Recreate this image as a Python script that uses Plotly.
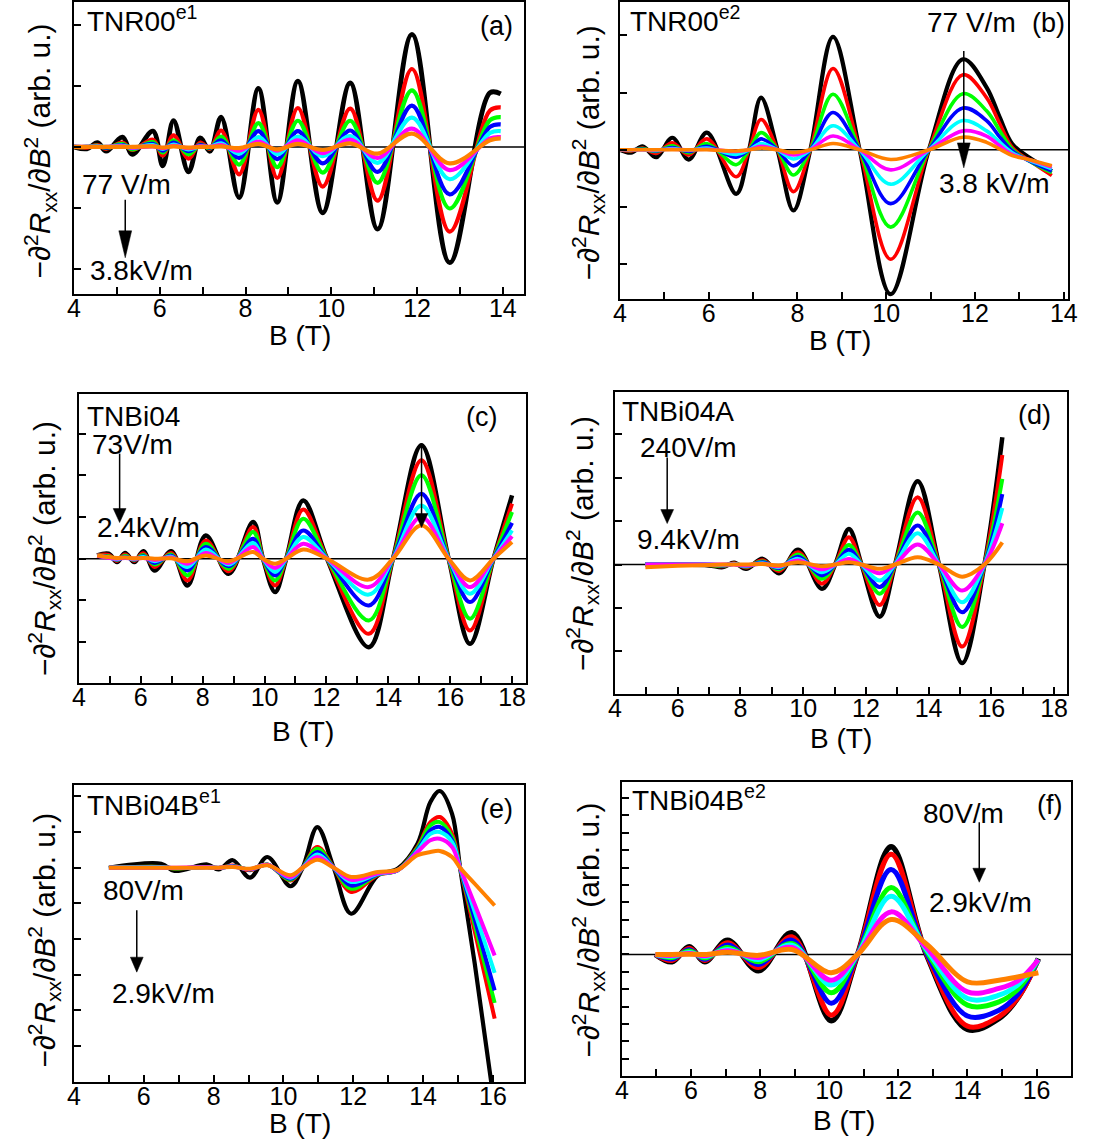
import plotly.graph_objects as go

# ---------------- data ----------------
# panel (a) TNR00 e1
A_B = [4.0, 4.3, 4.55, 4.75, 5.13, 5.36, 5.84, 6.07, 6.32, 6.67, 6.94, 7.17, 7.43, 7.85, 8.3, 8.74, 9.22, 9.8, 10.44, 11.08, 11.88, 12.76, 13.7, 13.95]
A_K = [0, -0.03, 0.07, -0.07, 0.16, -0.12, 0.26, -0.31, 0.43, -0.41, 0.15, -0.07, 0.49, -0.83, 0.96, -0.91, 1.08, -1.08, 1.05, -1.35, 1.85, -1.9, 0.89, 0.87]
A_R = [0, -0.01, 0.03, -0.03, 0.07, -0.05, 0.12, -0.14, 0.19, -0.19, 0.07, -0.03, 0.27, -0.45, 0.61, -0.51, 0.64, -0.65, 0.63, -0.88, 1.28, -1.39, 0.6, 0.65]
A_G = [0, 0, 0.02, -0.02, 0.05, -0.04, 0.08, -0.09, 0.11, -0.12, 0.04, -0.02, 0.17, -0.29, 0.39, -0.33, 0.43, -0.42, 0.43, -0.59, 0.93, -1.01, 0.44, 0.49]
A_BL = [0, 0, 0.01, -0.01, 0.03, -0.02, 0.05, -0.06, 0.07, -0.07, 0.03, -0.01, 0.11, -0.18, 0.26, -0.2, 0.26, -0.27, 0.27, -0.41, 0.68, -0.78, 0.33, 0.37]
A_C = [0, 0, 0.01, 0, 0.02, -0.01, 0.03, -0.03, 0.04, -0.04, 0.01, 0, 0.06, -0.11, 0.16, -0.12, 0.17, -0.15, 0.18, -0.26, 0.48, -0.53, 0.23, 0.26]
A_M = [0, 0, 0, 0, 0.01, -0.01, 0.01, -0.02, 0.02, -0.02, 0.01, 0, 0.03, -0.06, 0.09, -0.06, 0.11, -0.1, 0.12, -0.18, 0.3, -0.38, 0.14, 0.16]
A_O = [0, 0, 0, 0, 0, 0, 0.01, -0.01, 0.01, -0.01, 0, 0, 0.01, -0.02, 0.05, -0.04, 0.05, -0.05, 0.06, -0.11, 0.22, -0.27, 0.11, 0.14]

# panel (b) TNR00 e2
B_B = [4.0, 4.25, 4.51, 4.82, 5.18, 5.55, 5.96, 6.62, 6.91, 7.18, 7.55, 7.91, 8.29, 8.8, 9.4, 10.1, 10.96, 11.73, 12.26, 12.56, 12.84, 13.21, 13.73]
B_K = [0, -0.05, 0.06, -0.13, 0.21, -0.17, 0.30, -0.77, 0, 0.91, 0, -1.06, 0, 1.97, 0, -2.52, 0, 1.58, 1.09, 0.56, 0.10, -0.13, -0.37]
B_R = [0, -0.02, 0.03, -0.06, 0.12, -0.09, 0.19, -0.47, 0, 0.53, 0, -0.73, 0, 1.42, 0, -1.91, 0, 1.31, 0.91, 0.45, 0.04, -0.18, -0.45]
B_G = [0, -0.01, 0.02, -0.03, 0.07, -0.05, 0.11, -0.26, 0, 0.30, 0, -0.44, 0, 0.97, 0, -1.35, 0, 0.98, 0.68, 0.33, 0.01, -0.19, -0.4]
B_BL = [0, 0, 0.01, -0.02, 0.04, -0.03, 0.06, -0.13, 0, 0.19, 0, -0.28, 0, 0.65, 0, -0.94, 0, 0.73, 0.51, 0.22, -0.02, -0.19, -0.37]
B_C = [0, 0, 0, -0.01, 0.02, -0.01, 0.03, -0.08, 0, 0.11, 0, -0.16, 0, 0.42, 0, -0.6, 0, 0.51, 0.33, 0.13, -0.05, -0.18, -0.33]
B_M = [0, 0, 0, 0, 0.01, 0, 0.01, -0.03, 0, 0.06, 0, -0.09, 0, 0.24, 0, -0.35, 0, 0.33, 0.24, 0.07, -0.08, -0.17, -0.3]
B_O = [0, 0, 0, 0, 0, 0, 0, -0.02, 0, 0.03, 0, -0.05, 0, 0.11, 0, -0.17, 0, 0.22, 0.13, 0.01, -0.1, -0.17, -0.28]

# panel (c) TNBi04
C_B = [4.59, 4.96, 5.23, 5.49, 5.79, 6.08, 6.45, 6.98, 7.51, 8.1, 8.84, 9.63, 9.95, 10.34, 10.7, 11.25, 12.02, 13.37, 14.15, 15.07, 15.95, 16.64, 17.4, 18.0]
C_K = [0.08, 0.12, -0.08, 0.14, -0.08, 0.18, -0.28, 0.18, -0.64, 0.56, -0.36, 0.88, 0, -0.8, 0, 1.4, 0, -2.12, 0, 2.72, 0, -2.04, 0, 1.52]
C_R = [0.08, 0.09, -0.05, 0.1, -0.05, 0.13, -0.2, 0.14, -0.52, 0.44, -0.3, 0.76, 0, -0.64, 0, 1.18, 0, -1.8, 0, 2.36, 0, -1.72, 0, 1.32]
C_G = [0.07, 0.06, -0.03, 0.07, -0.03, 0.09, -0.14, 0.1, -0.4, 0.36, -0.24, 0.64, 0, -0.52, 0, 0.96, 0, -1.48, 0, 2.0, 0, -1.44, 0, 1.12]
C_BL = [0.07, 0.04, -0.02, 0.05, -0.02, 0.06, -0.1, 0.07, -0.28, 0.28, -0.18, 0.48, 0, -0.4, 0, 0.68, 0, -1.12, 0, 1.56, 0, -1.04, 0, 0.86]
C_C = [0.07, 0.03, -0.01, 0.03, -0.01, 0.04, -0.06, 0.05, -0.2, 0.22, -0.14, 0.38, 0, -0.32, 0, 0.52, 0, -0.86, 0, 1.28, 0, -0.84, 0, 0.68]
C_M = [0.07, 0.02, 0, 0.02, 0, 0.02, -0.03, 0.03, -0.12, 0.14, -0.1, 0.28, 0, -0.22, 0, 0.36, 0, -0.68, 0, 1.0, 0, -0.68, 0, 0.54]
C_O = [0.08, 0.04, 0.02, 0.03, 0.01, 0.02, 0, 0.01, -0.06, 0.08, -0.06, 0.16, 0, -0.12, 0, 0.22, 0, -0.5, 0, 0.8, 0, -0.52, 0, 0.4]

# panel (d) TNBi04A
D_B = [4.97, 6.0, 7.0, 7.44, 7.8, 8.18, 8.71, 9.23, 9.84, 10.6, 11.02, 11.46, 11.86, 12.44, 12.93, 13.65, 14.33, 15.07, 15.78, 16.35]
D_K = [0, 0, -0.02, -0.06, 0.04, -0.1, 0.13, -0.2, 0.34, -0.56, 0, 0.82, 0, -1.2, 0, 1.92, 0, -2.27, 0, 2.93]
D_R = [0, 0, -0.01, -0.04, 0.03, -0.07, 0.1, -0.15, 0.28, -0.44, 0, 0.63, 0, -0.93, 0, 1.55, 0, -1.89, 0, 2.52]
D_G = [0, 0, -0.01, -0.03, 0.02, -0.05, 0.07, -0.11, 0.23, -0.33, 0, 0.45, 0, -0.67, 0, 1.2, 0, -1.44, 0, 1.97]
D_BL = [0, 0, 0, -0.02, 0.01, -0.04, 0.05, -0.08, 0.18, -0.25, 0, 0.34, 0, -0.52, 0, 0.9, 0, -1.1, 0, 1.62]
D_C = [0, 0, 0, -0.01, 0.01, -0.03, 0.03, -0.06, 0.13, -0.18, 0, 0.25, 0, -0.37, 0, 0.72, 0, -0.87, 0, 1.3]
D_M = [0, 0, 0, 0, 0, -0.02, 0.02, -0.04, 0.09, -0.11, 0, 0.13, 0, -0.2, 0, 0.46, 0, -0.6, 0, 0.95]
D_O = [-0.06, -0.03, -0.01, 0, 0, 0, 0.01, -0.02, 0.05, -0.04, 0, 0.05, 0, -0.1, 0, 0.17, 0, -0.28, 0, 0.51]

# panel (e) TNBi04B e1
E_B = [5.0, 6.5, 6.88, 7.82, 8.14, 8.55, 9.04, 9.54, 10.2, 10.55, 10.97, 11.44, 11.94, 12.71, 13.27, 13.84, 14.21, 14.48, 14.83, 15.06, 15.48, 16.05]
E_K = [0, 0.11, -0.09, 0.09, -0.05, 0.21, -0.28, 0.3, -0.52, 0, 1.14, 0, -1.29, -0.21, -0.03, 0.67, 1.84, 2.15, 1.51, 0, -2.69, -6.7]
E_R = [0, 0.02, -0.02, 0.02, -0.01, 0.06, -0.07, 0.09, -0.36, 0, 0.58, 0, -0.68, -0.2, -0.07, 0.58, 1.28, 1.42, 0.95, 0, -1.78, -4.23]
E_G = [0, 0.02, -0.02, 0.02, -0.01, 0.05, -0.05, 0.09, -0.34, 0, 0.53, 0, -0.59, -0.19, -0.07, 0.55, 1.19, 1.28, 0.86, 0, -1.6, -3.79]
E_BL = [0, 0.01, -0.01, 0.01, -0.01, 0.04, -0.05, 0.08, -0.31, 0, 0.44, 0, -0.5, -0.18, -0.07, 0.5, 1.05, 1.14, 0.77, 0, -1.45, -3.44]
E_C = [0, 0.01, -0.01, 0.01, 0, 0.03, -0.04, 0.08, -0.28, 0, 0.37, 0, -0.4, -0.17, -0.07, 0.47, 0.95, 1.0, 0.72, 0, -1.24, -2.95]
E_M = [0, 0, 0, 0.01, 0, 0.03, -0.04, 0.08, -0.26, 0, 0.3, 0, -0.34, -0.16, -0.07, 0.44, 0.77, 0.81, 0.58, 0, -1.03, -2.46]
E_O = [0, 0, 0, 0, 0, 0.02, -0.03, 0.07, -0.21, 0, 0.22, 0, -0.26, -0.12, -0.06, 0.35, 0.44, 0.47, 0.3, 0, -0.45, -1.06]

# panel (f) TNBi04B e2
F_B = [4.97, 5.45, 5.95, 6.4, 7.06, 7.95, 8.92, 10.06, 10.82, 11.79, 12.81, 14.0, 14.91, 15.48, 16.05]
F_K = [0, -0.42, 0.44, -0.42, 0.82, -0.94, 1.25, -3.81, 0, 6.19, 0, -4.31, -3.68, -2.43, -0.23]
F_R = [0, -0.34, 0.36, -0.35, 0.67, -0.75, 1.02, -3.49, 0, 5.77, 0.05, -4.12, -3.58, -2.43, -0.3]
F_G = [0, -0.18, 0.2, -0.2, 0.4, -0.42, 0.63, -2.2, 0, 3.85, 0.2, -2.91, -2.72, -1.95, -0.3]
F_BL = [0, -0.26, 0.28, -0.28, 0.54, -0.57, 0.82, -2.8, 0, 4.89, 0.1, -3.54, -3.2, -2.24, -0.3]
F_C = [0, -0.1, 0.12, -0.12, 0.29, -0.29, 0.54, -1.76, 0, 3.35, 0.3, -2.53, -2.34, -1.7, -0.3]
F_M = [0, -0.05, 0.06, -0.07, 0.21, -0.17, 0.4, -1.48, 0, 2.45, 0.4, -2.15, -1.95, -1.48, -0.3]
F_O = [0, 0, 0.02, 0, 0.13, -0.05, 0.29, -1.05, 0, 2.01, 0.6, -1.57, -1.48, -1.28, -1.05]

X_TICKS_A = [4, 6, 8, 10, 12, 14]
X_TICKS_C = [4, 6, 8, 10, 12, 14, 16, 18]
X_TICKS_E = [4, 6, 8, 10, 12, 14, 16]

COLORS = ["#000000", "#ff0000", "#00ff00", "#0000ff", "#00ffff", "#ff00ff", "#ff8000"]
COLORS_F = ["#000000", "#ff0000", "#0000ff", "#00ff00", "#00ffff", "#ff00ff", "#ff8000"]

# ---------------- figure ----------------
W, H = 1093, 1145
FONT = "Liberation Sans, Arial, sans-serif"

def px(x):
    return x / W

def py(y):
    return 1 - y / H

panels = [
    dict(B=A_B, ys=[A_K, A_R, A_G, A_BL, A_C, A_M, A_O], cols=COLORS, box=(68, 525, 1, 293), xr=[4, 14.5], yr=[-2.41, 2.38], ticks=X_TICKS_A, zero=True, lw=(4.8, 4.2)),
    dict(B=B_B, ys=[B_K, B_R, B_G, B_BL, B_C, B_M, B_O], cols=COLORS, box=(622, 1077, 1, 298), xr=[4, 14.1], yr=[-2.6, 2.58], ticks=X_TICKS_A, zero=True, lw=(4.2, 3.6)),
    dict(B=C_B, ys=[C_K, C_R, C_G, C_BL, C_C, C_M, C_O], cols=COLORS, box=(73, 527, 393, 683), xr=[4, 18.46], yr=[-2.99, 3.96], ticks=X_TICKS_C, zero=True, lw=(4.5, 4)),
    dict(B=D_B, ys=[D_K, D_R, D_G, D_BL, D_C, D_M, D_O], cols=COLORS, box=(617, 1076, 391, 694), xr=[4, 18.42], yr=[-2.99, 3.98], ticks=X_TICKS_C, zero=True, lw=(4.5, 4)),
    dict(B=E_B, ys=[E_K, E_R, E_G, E_BL, E_C, E_M, E_O], cols=COLORS, box=(68, 525, 785, 1082), xr=[4, 16.9], yr=[-6.01, 2.31], ticks=X_TICKS_E, zero=False, lw=(4.2, 4)),
    dict(B=F_B, ys=[F_K, F_R, F_BL, F_G, F_C, F_M, F_O], cols=COLORS_F, box=(624, 1080, 782, 1076), xr=[4, 17.0], yr=[-6.99, 9.9], ticks=X_TICKS_E, zero=True, lw=(5.5, 5)),
]

fig = go.Figure()
layout = dict(width=W, height=H, margin=dict(l=0, r=0, t=0, b=0),
              paper_bgcolor="white", plot_bgcolor="white", showlegend=False,
              font=dict(family=FONT, color="black"))
shapes = []
for i, p in enumerate(panels):
    n = "" if i == 0 else str(i + 1)
    l, r, t, b = p["box"]
    layout["xaxis" + n] = dict(
        domain=[px(l), px(r)], range=p["xr"], anchor="y" + n,
        showline=True, linecolor="black", linewidth=2, mirror=True,
        ticks="inside", ticklen=7, tickwidth=1.5, tickcolor="black",
        tickmode="array", tickvals=p["ticks"], ticklabelstandoff=-9,
        minor=dict(dtick=1, tick0=0, ticks="inside", ticklen=7, tickwidth=1.5, tickcolor="black", showgrid=False),
        showgrid=False, zeroline=False, tickfont=dict(size=25, family=FONT),
    )
    layout["yaxis" + n] = dict(
        domain=[py(b), py(t)], range=p["yr"], anchor="x" + n,
        showline=True, linecolor="black", linewidth=2, mirror=True,
        ticks="inside", ticklen=7, tickwidth=1.5, tickcolor="black",
        dtick=1, tick0=0, showticklabels=False,
        showgrid=False, zeroline=False,
    )
    for j, ys in enumerate(p["ys"]):
        fig.add_trace(go.Scatter(
            x=p["B"], y=ys, mode="lines", xaxis="x" + n, yaxis="y" + n,
            line=dict(color=p["cols"][j], width=p["lw"][0] if j == 0 else p["lw"][1],
                      shape="spline", smoothing=1.0),
            hoverinfo="skip"))
    if p["zero"]:
        shapes.append(dict(type="line", xref="x" + n + " domain", yref="y" + n,
                           x0=0, x1=1, y0=0, y1=0, line=dict(color="black", width=1.5), layer="below"))

ann = []
def text(s, x, y, size=27, xanchor="center", yanchor="middle", angle=0):
    ann.append(dict(text=s, x=px(x), y=py(y), xref="paper", yref="paper", showarrow=False,
                    xanchor=xanchor, yanchor=yanchor, textangle=angle, borderpad=0,
                    font=dict(size=size, family=FONT, color="black")))

def arrow(x, y0, y1, head, hw=6.5):
    # vertical arrow from y0 down to tip y1 (pixels), head length `head`
    shapes.append(dict(type="line", xref="paper", yref="paper", x0=px(x), x1=px(x),
                       y0=py(y0), y1=py(y1 - head + 2), line=dict(color="black", width=1.5)))
    shapes.append(dict(type="path", xref="paper", yref="paper",
                       path=f"M {px(x - hw)},{py(y1 - head)} L {px(x + hw)},{py(y1 - head)} L {px(x)},{py(y1)} Z",
                       fillcolor="black", line=dict(color="black", width=0.5)))

YT = "−∂<sup>2</sup><i>R</i><sub>xx</sub>/∂<i>B</i><sup>2</sup> (arb. u.)"
for (cx, cy) in [(33, 150), (590, 152), (37, 548), (583, 543), (38, 940), (590, 930)]:
    text(YT, cx, cy, size=30, angle=-90)
for (cx, cy) in [(297, 335), (845, 340), (300, 731), (846, 738), (297, 1123), (849, 1120)]:
    text("B (T)", cx, cy, size=28)

# panel (a)
text("TNR00<sup>e1</sup>", 80, 18, size=28, xanchor="left")
text("(a)", 497, 25)
text("77 V/m", 121, 184, size=28)
arrow(120, 199, 257, 27)
text("3.8kV/m", 137, 270, size=28)
# panel (b)
text("TNR00<sup>e2</sup>", 631, 18, size=28, xanchor="left")
text("(b)", 1057, 22)
text("77 V/m", 979, 22, size=28)
arrow(971, 50, 167, 25)
text("3.8 kV/m", 1002, 183, size=28)
# panel (c)
text("TNBi04", 80, 416, size=28, xanchor="left")
text("(c)", 482, 416)
text("73V/m", 127, 444, size=28)
arrow(114.3, 453, 522, 14)
text("2.4kV/m", 144, 527, size=28)
arrow(420.7, 443, 527, 14)
# panel (d)
text("TNBi04A", 623, 411, size=28, xanchor="left")
text("(d)", 1043, 414)
text("240V/m", 692, 447, size=28)
arrow(670, 457, 523, 14)
text("9.4kV/m", 692, 539, size=28)
# panel (e)
text("TNBi04B<sup>e1</sup>", 80, 803, size=28, xanchor="left")
text("(e)", 497, 809)
text("80V/m", 139, 890, size=28)
arrow(131.7, 910, 972, 15)
text("2.9kV/m", 159, 993, size=28)
# panel (f)
text("TNBi04B<sup>e2</sup>", 633, 798, size=28, xanchor="left")
text("(f)", 1058, 805)
text("80V/m", 971, 813, size=28)
arrow(986.7, 822, 882, 14)
text("2.9kV/m", 988, 902, size=28)

layout["shapes"] = shapes
layout["annotations"] = ann
fig.update_layout(**layout)
fig.write_html("out.html")
